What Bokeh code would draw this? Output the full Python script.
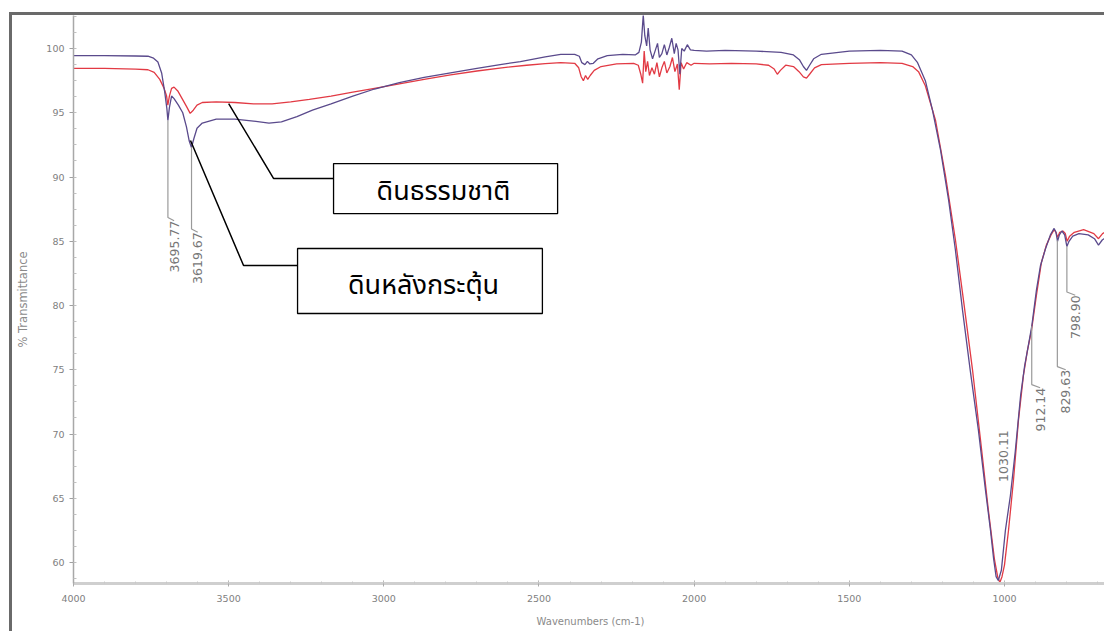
import numpy as np
from bokeh.plotting import figure
from bokeh.models import Range1d, FixedTicker
from bokeh.core.properties import value
from bokeh.embed import file_html
from bokeh.resources import INLINE

# ---------------- data (wavenumber cm-1, % transmittance) ----------------
wn_activated = [4000, 3900, 3800, 3760, 3742, 3728, 3716, 3706, 3699, 3695.8, 3691, 3684, 3676, 3662,
                3648, 3636, 3627, 3620, 3612, 3602, 3585, 3540, 3480, 3420, 3370, 3330, 3280, 3230,
                3170, 3100, 3030, 2950, 2870, 2785, 2700, 2625, 2560, 2480, 2430, 2385, 2370, 2362,
                2352, 2344, 2336, 2325, 2310, 2280, 2230, 2190, 2178, 2170, 2164, 2159, 2153, 2148,
                2142, 2134, 2126, 2118, 2112, 2104, 2096, 2088, 2080, 2072, 2064, 2058, 2052, 2046,
                2040, 2032, 2022, 2012, 2000, 1960, 1900, 1800, 1720, 1680, 1660, 1648, 1638, 1628,
                1615, 1590, 1500, 1400, 1330, 1300, 1280, 1255, 1232, 1206, 1180, 1158, 1135, 1110,
                1084, 1061, 1045, 1035, 1027, 1020, 1010, 997, 981, 965, 948, 935, 923, 912, 897,
                884, 868, 852, 840, 834, 829, 823, 815, 806, 799, 792, 780, 760, 730, 710, 697, 685, 668]
t_activated = [99.45, 99.45, 99.42, 99.40, 99.25, 98.95, 98.1, 96.6, 95.3, 94.4, 95.4, 96.3, 96.1, 95.6,
               95.0, 93.9, 92.8, 92.3, 93.0, 93.8, 94.2, 94.5, 94.5, 94.35, 94.2, 94.3, 94.7, 95.2,
               95.7, 96.3, 96.85, 97.35, 97.75, 98.1, 98.45, 98.75, 98.98, 99.35, 99.55, 99.55, 99.4, 98.9,
               98.75, 99.0, 98.8, 98.85, 99.2, 99.45, 99.55, 99.5, 99.7, 100.5, 102.6, 101.0, 100.2, 101.6,
               99.9, 99.2, 99.8, 100.4, 99.3, 99.6, 100.3, 99.5, 100.1, 100.8, 99.6, 100.4, 99.9, 98.0,
               100.0, 99.8, 100.3, 99.9, 99.85, 99.8, 99.85, 99.8, 99.7, 99.5, 99.1, 98.6, 98.3, 98.7,
               99.2, 99.55, 99.8, 99.85, 99.8, 99.5, 98.9, 97.5, 95.2, 92.1, 88.2, 84.3, 79.6, 74.9,
               70.3, 65.6, 62.5, 60.3, 58.9, 58.6, 59.4, 62.5, 65.2, 68.7, 73.0, 75.3, 76.9, 78.4, 81.2,
               83.1, 84.4, 85.5, 86.0, 85.7, 85.0, 85.5, 85.8, 85.5, 84.6, 85.0, 85.4, 85.6, 85.5, 85.2, 84.7, 85.1, 85.4]

wn_natural = [4000, 3900, 3800, 3760, 3740, 3722, 3708, 3700, 3696, 3691, 3684, 3676, 3664, 3650,
              3636, 3624, 3614, 3602, 3585, 3540, 3480, 3420, 3360, 3300, 3240, 3170, 3100, 3030,
              2950, 2870, 2785, 2700, 2620, 2540, 2480, 2430, 2385, 2372, 2364, 2357, 2350, 2343,
              2335, 2322, 2300, 2250, 2195, 2180, 2172, 2166, 2161, 2156, 2150, 2144, 2136, 2128,
              2120, 2112, 2104, 2096, 2088, 2078, 2070, 2062, 2054, 2048, 2042, 2034, 2024, 2010,
              2000, 1950, 1880, 1800, 1760, 1742, 1732, 1722, 1705, 1680, 1662, 1648, 1638, 1628,
              1612, 1590, 1500, 1400, 1330, 1296, 1277, 1255, 1222, 1190, 1158, 1132, 1103, 1077,
              1052, 1032, 1022, 1015, 1008, 1000, 987, 971, 955, 939, 926, 913, 897, 881, 865, 850,
              840, 834, 829, 822, 812, 804, 798, 790, 775, 745, 712, 697, 684, 668]
t_natural = [98.45, 98.45, 98.4, 98.35, 98.15, 97.6, 96.9, 96.3, 95.6, 96.3, 96.9, 97.0, 96.7, 96.1,
             95.5, 94.95, 95.2, 95.6, 95.8, 95.85, 95.8, 95.7, 95.7, 95.85, 96.05, 96.3, 96.6, 96.9,
             97.25, 97.6, 97.95, 98.25, 98.5, 98.7, 98.82, 98.9, 98.85, 98.5, 97.8, 97.5, 97.9, 97.6,
             97.9, 98.3, 98.6, 98.8, 98.85, 98.7, 98.0, 97.3, 99.8, 98.2, 99.0, 97.9, 98.5, 98.0,
             98.9, 97.8, 98.5, 99.0, 98.1, 98.6, 99.3, 98.2, 98.8, 96.8, 98.9, 98.4, 98.9, 98.7,
             98.85, 98.8, 98.85, 98.8, 98.7, 98.4, 98.0, 98.3, 98.7, 98.6, 98.2, 97.8, 97.7, 98.0,
             98.5, 98.75, 98.85, 98.9, 98.85, 98.6, 98.2, 97.1, 94.4, 90.1, 85.1, 80.4, 75.0, 69.5,
             64.1, 60.2, 58.9, 58.45, 58.9, 59.8, 62.5, 66.4, 71.05, 74.55, 76.5, 78.05, 80.8, 83.35, 84.7, 85.5,
             85.9, 85.7, 85.3, 85.7, 85.8, 85.6, 85.0, 85.4, 85.7, 85.9, 85.6, 85.2, 85.6, 85.8]

peak_wn = [3695.77, 3619.67, 1030.11, 912.14, 829.63, 798.90]
peak_text = ["3695.77", "3619.67", "1030.11", "912.14", "829.63", "798.90"]
peak_label_top = [86.6, 85.7, 70.3, 73.6, 75.0, 80.8]   # %T where each rotated label ends
peak_has_leader = [True, True, False, True, True, True]

x_ticks = [1000, 1500, 2000, 2500, 3000, 3500, 4000]
y_ticks = [60, 65, 70, 75, 80, 85, 90, 95, 100]

legend_text = ["ดินธรรมชาติ", "ดินหลังกระตุ้น"]
# callout boxes (data coords): left, right, top, bottom
box_left = [3162, 3278]
box_right = [2440, 2489]
box_top = [91.05, 84.44]
box_bottom = [87.16, 79.38]
box_text_x = [2808, 2872]
box_text_y = [88.9, 81.55]
# callout leader lines (elbow then to curve)
lead1_x = [3162, 3355, 3500]
lead1_y = [89.88, 89.88, 95.72]
lead2_x = [3278, 3452, 3623]
lead2_y = [83.11, 83.11, 92.84]

# ---------------- figure ----------------
p = figure(width=1095, height=619,
           x_range=Range1d(4000, 668), y_range=Range1d(58.37, 102.57),
           output_backend="svg", toolbar_location=None,
           min_border_left=61, min_border_right=0, min_border_top=0, min_border_bottom=51,
           margin=(12, 0, 0, 9))
p.styles = {"border-top": "3px solid #6a6a6a", "border-left": "3px solid #6a6a6a"}
p.outline_line_color = None
p.xgrid.visible = False
p.ygrid.visible = False
p.background_fill_color = "white"
p.border_fill_color = "white"

TICK_FONT = "DejaVu Sans"

xa = p.xaxis[0]
xa.ticker = FixedTicker(ticks=x_ticks, minor_ticks=list(range(700, 4001, 100)))
xa.axis_line_color = "#cfcfcf"
xa.axis_line_width = 3
xa.major_tick_line_color = "#aaaaaa"
xa.minor_tick_line_color = "#c8c8c8"
xa.major_tick_in = 3
xa.major_tick_out = 3
xa.minor_tick_in = 2
xa.minor_tick_out = 0
xa.major_label_text_font = TICK_FONT
xa.major_label_text_font_size = "9.5px"
xa.major_label_text_color = "#808080"
xa.major_label_standoff = 8
xa.axis_label = "Wavenumbers (cm-1)"
xa.axis_label_text_font = TICK_FONT
xa.axis_label_text_font_size = "10px"
xa.axis_label_text_font_style = "normal"
xa.axis_label_text_color = "#8a8a8a"
xa.axis_label_standoff = 11

ya = p.yaxis[0]
ya.ticker = FixedTicker(ticks=y_ticks, minor_ticks=[58.75 + 1.25 * i for i in range(36)])
ya.axis_line_color = "#a8a8a8"
ya.axis_line_width = 1.5
ya.major_tick_line_color = "#a0a0a0"
ya.minor_tick_line_color = "#c0c0c0"
ya.major_tick_in = 0
ya.major_tick_out = 4
ya.minor_tick_in = 3
ya.minor_tick_out = 0
ya.major_label_text_font = TICK_FONT
ya.major_label_text_font_size = "9.5px"
ya.major_label_text_color = "#808080"
ya.major_label_standoff = 5
ya.axis_label = "% Transmittance"
ya.axis_label_text_font = TICK_FONT
ya.axis_label_text_font_size = "11.5px"
ya.axis_label_text_font_style = "normal"
ya.axis_label_text_color = "#8a8a8a"
ya.axis_label_standoff = 13

# spectra
p.line(wn_natural, t_natural, line_color="#e23a44", line_width=1.3)
p.line(wn_activated, t_activated, line_color="#5a4a8c", line_width=1.3)

# peak labels with leaders (from the activated spectrum)
curve_at_peak = np.interp(peak_wn, wn_activated[::-1], t_activated[::-1])
label_x = [w - (20 if w > 2000 else 27) for w in peak_wn]
for wn, lx, top, has, t0 in zip(peak_wn, label_x, peak_label_top, peak_has_leader, curve_at_peak):
    if has:
        p.line([wn, wn, lx], [t0, top + 0.25, top], line_color="#9a9a9a", line_width=1.2)
p.text(x=label_x, y=peak_label_top, text=peak_text,
       angle=np.pi / 2, text_align="right", text_baseline="middle",
       text_font=value("DejaVu Sans"), text_font_size="12.5px", text_color="#767676")

# callouts
p.line(lead1_x, lead1_y, line_color="black", line_width=1.5)
p.line(lead2_x, lead2_y, line_color="black", line_width=1.5)
p.quad(left=box_left, right=box_right, top=box_top, bottom=box_bottom,
       fill_color="white", line_color="black", line_width=1.3)
p.text(x=box_text_x, y=box_text_y, text=legend_text, text_align="center", text_baseline="middle",
       text_font=value("Noto Sans Thai, Noto Sans Thai UI, Loma, Garuda, Noto Sans, sans-serif"),
       text_font_size="27px", text_color="black")

open("out.html", "w").write(file_html(p, INLINE))
